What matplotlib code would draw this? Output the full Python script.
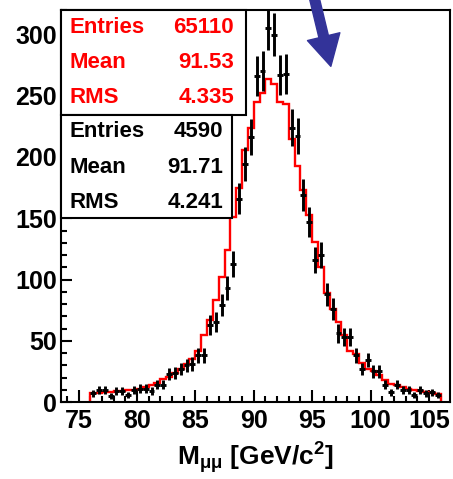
import numpy as np
import matplotlib.pyplot as plt
from matplotlib.patches import Rectangle
from matplotlib.ticker import MultipleLocator

plt.rcParams['font.family'] = ['Liberation Sans', 'DejaVu Sans']
plt.rcParams['font.weight'] = 'bold'
plt.rcParams['axes.labelweight'] = 'bold'
plt.rcParams['mathtext.fontset'] = 'custom'
plt.rcParams['mathtext.rm'] = 'Liberation Sans:bold'
plt.rcParams['mathtext.it'] = 'Liberation Sans:bold'
plt.rcParams['mathtext.bf'] = 'Liberation Sans:bold'

# binning: 60 bins of 0.5 GeV from 76 to 106
x_lo, x_hi, n_bins = 76.0, 106.0, 60
edges = np.linspace(x_lo, x_hi, n_bins + 1)
centers = 0.5 * (edges[:-1] + edges[1:])

# data (black points)
data = [7, 10, 10, 5, 9, 9, 6, 10, 11, 11,
        9, 14, 14, 23, 24, 27, 30, 31, 38, 38,
        63, 65, 79, 93, 113, 166, 194, 216, 266, 270,
        305, 300, 267, 268, 224, 217, 169, 147, 116, 120,
        88, 76, 56, 53, 53, 38, 27, 34, 25, 25,
        14, 8, 14, 10, 10, 6, 10, 7, 8, 6]

# simulation, normalised (red histogram)
mc = [7, 7.5, 8, 8.5, 8.7, 9, 9.5, 10, 11, 12,
      13.5, 15.5, 18.5, 20.5, 23.5, 27, 31, 35.5, 42, 55,
      67, 83, 102, 124, 151, 174.5, 206, 223.6, 245, 252,
      264, 260, 245, 243, 215, 193, 173, 153, 131, 110,
      88.6, 76, 65, 55, 42, 39, 32, 27, 25, 22,
      18, 15, 13.7, 12.3, 11, 9.6, 8.7, 8.2, 7.4, 6.3]

stats_mc = [("Entries", "65110"), ("Mean", "91.53"), ("RMS", "4.335")]
stats_data = [("Entries", "4590"), ("Mean", "91.71"), ("RMS", "4.241")]

fig = plt.figure(figsize=(4.53, 4.79), dpi=100)
ax = fig.add_axes([61/453, 1 - 402/479, 389/453, 392/479])

ax.stairs(mc, edges, color='red', lw=1.7, zorder=2)
ax.errorbar(centers, data, yerr=np.sqrt(data), xerr=0.25, fmt='none',
            ecolor='black', elinewidth=2.1, capsize=0, zorder=3)

ax.set_xlim(73.5, 106.8)
ax.set_ylim(0, 320)
ax.xaxis.set_major_locator(MultipleLocator(5))
ax.xaxis.set_minor_locator(MultipleLocator(1))
ax.yaxis.set_major_locator(MultipleLocator(50))
ax.yaxis.set_minor_locator(MultipleLocator(10))
ax.tick_params(which='both', direction='in', top=False, right=False, width=1.5,
               labelsize=18)
ax.tick_params(axis='x', which='major', length=9, pad=5)
ax.tick_params(axis='x', which='minor', length=4.5)
ax.tick_params(axis='y', which='major', length=8, pad=3)
ax.tick_params(axis='y', which='minor', length=4)
for s in ax.spines.values():
    s.set_linewidth(1.5)

ax.set_xlabel(r'M$_{\mu\mu}$ [GeV/c$^{2}$]', fontsize=19, fontweight='bold',
              labelpad=5)

# stat boxes
ax.add_patch(Rectangle((0, 0.732), 0.4756, 0.268, transform=ax.transAxes,
                       facecolor='white', edgecolor='black', lw=1.5, zorder=5,
                       clip_on=False))
ax.add_patch(Rectangle((0, 0.4694), 0.4396, 0.2626, transform=ax.transAxes,
                       facecolor='white', edgecolor='black', lw=1.5, zorder=5,
                       clip_on=False))
for (lab, val), yb in zip(stats_mc, [0.941, 0.852, 0.763]):
    ax.text(0.023, yb, lab, color='red', fontsize=16, va='baseline',
            transform=ax.transAxes, zorder=6)
    ax.text(0.445, yb, val, color='red', fontsize=16, va='baseline', ha='right',
            transform=ax.transAxes, zorder=6)
for (lab, val), yb in zip(stats_data, [0.676, 0.584, 0.495]):
    ax.text(0.023, yb, lab, color='black', fontsize=16, va='baseline',
            transform=ax.transAxes, zorder=6)
    ax.text(0.4165, yb, val, color='black', fontsize=16, va='baseline', ha='right',
            transform=ax.transAxes, zorder=6)

# arrow
ax.annotate('', xy=(96.6, 274), xytext=(94.8, 345), annotation_clip=False,
            arrowprops=dict(facecolor='#333399', edgecolor='#333399',
                            width=7, headwidth=24, headlength=22, shrink=0))

fig.savefig('out.png', dpi=100)
